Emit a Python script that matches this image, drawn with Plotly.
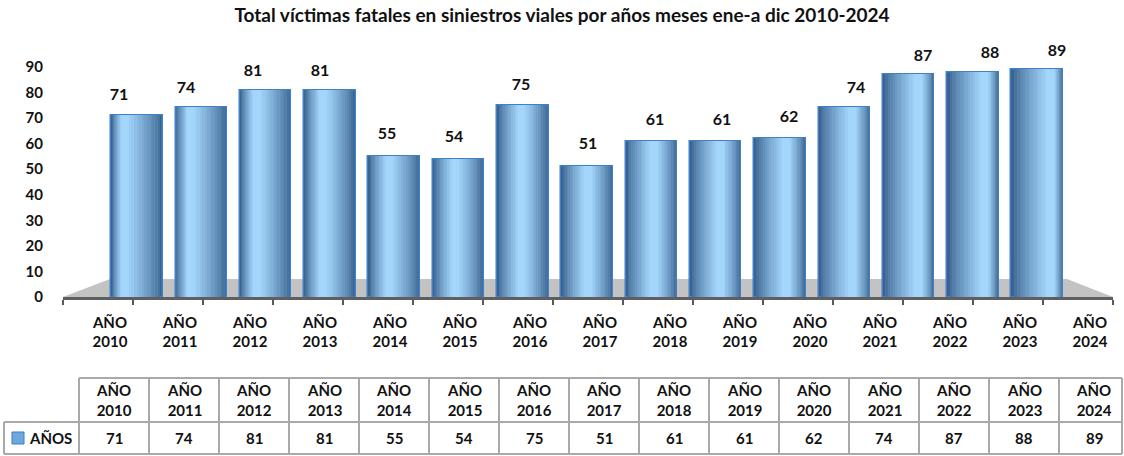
import plotly.graph_objects as go

years = ["2010", "2011", "2012", "2013", "2014", "2015", "2016", "2017",
         "2018", "2019", "2020", "2021", "2022", "2023", "2024"]
values = [71, 74, 81, 81, 55, 54, 75, 51, 61, 61, 62, 74, 87, 88, 89]
series_name = "AÑOS"
title = "Total víctimas fatales en siniestros viales por años meses ene-a dic 2010-2024"

cats = ["AÑO " + y for y in years]
ticktext = ["<b>AÑO<br>" + y + "</b>" for y in years]

W, H = 1124, 456
FONT = "Lato"
TXT = "#111111"
GRID = "#a9a9a9"

def px(x):
    return x / W

def py(y):
    return 1 - y / H

def mix(c1, c2, t):
    a = [int(c1[i:i + 2], 16) for i in (1, 3, 5)]
    b = [int(c2[i:i + 2], 16) for i in (1, 3, 5)]
    return "rgb(%d,%d,%d)" % tuple(round(a[j] + (b[j] - a[j]) * t) for j in range(3))

fig = go.Figure()

# invisible trace to build the categorical base axis
fig.add_trace(go.Scatter(x=cats, y=values, mode="markers", marker=dict(opacity=0),
                         hoverinfo="skip", showlegend=False, xaxis="x", yaxis="y"))

# cylinder-like bars: nested layers of decreasing width give a smooth gradient
n = len(values)
BAR_W = 0.8
NL = 14
shift = [-0.55 + 1.15 * i / (n - 1) for i in range(n)]
for k in range(NL):
    t = k / (NL - 1)
    w = BAR_W * (1 - 0.85 * t)
    col = mix("#3a6490", "#a4d6fc", t ** 0.8)
    offs = [-w / 2 + s * (BAR_W - w) / 2 for s in shift]
    fig.add_trace(go.Bar(
        x=cats, y=values, width=w, offset=offs,
        marker=dict(color=col,
                    line=dict(color="#3f80c8", width=1.5) if k == 0 else dict(width=0)),
        xaxis="x2", yaxis="y", showlegend=False, hoverinfo="skip"))

# data labels (perspective: label height compressed slightly)
fig.add_trace(go.Scatter(
    x=cats, y=[v * 0.958 + 10.6 for v in values], text=["<b>%d</b>" % v for v in values],
    mode="text", textfont=dict(family=FONT, size=16, color=TXT),
    xaxis="x3", yaxis="y", cliponaxis=False, showlegend=False, hoverinfo="skip"))

# ---- data table (text from the data arrays, grid as decoration) ----
tab_left, col0_right, col_w, tab_right = 4, 79, 70, 1122
row_top, row_mid, row_bot = 378, 422, 454
annotations = []
shapes = []
for i, (y, v) in enumerate(zip(years, values)):
    cx = col0_right + col_w * (i + 0.5)
    annotations.append(dict(xref="paper", yref="paper", x=px(cx), y=py((row_top + row_mid) / 2),
                            text="<b>AÑO<br>" + y + "</b>", showarrow=False,
                            xanchor="center", yanchor="middle",
                            font=dict(family=FONT, size=15, color=TXT)))
    annotations.append(dict(xref="paper", yref="paper", x=px(cx), y=py((row_mid + row_bot) / 2),
                            text="<b>%d</b>" % v, showarrow=False,
                            xanchor="center", yanchor="middle",
                            font=dict(family=FONT, size=15, color=TXT)))
annotations.append(dict(xref="paper", yref="paper", x=px(27), y=py((row_mid + row_bot) / 2),
                        text="<b>" + series_name + "</b>", showarrow=False,
                        xanchor="left", yanchor="middle",
                        font=dict(family=FONT, size=15, color=TXT)))
# legend key square
shapes.append(dict(type="rect", xref="paper", yref="paper",
                   x0=px(12), x1=px(24), y0=py(444), y1=py(432),
                   fillcolor="#6fa8dc", line=dict(color="#3f7fc0", width=1)))
# horizontal grid lines
for yy, xs in [(row_top, col0_right), (row_mid, tab_left), (row_bot, tab_left)]:
    shapes.append(dict(type="line", xref="paper", yref="paper",
                       x0=px(xs), x1=px(tab_right), y0=py(yy), y1=py(yy),
                       line=dict(color=GRID, width=2)))
# vertical grid lines
shapes.append(dict(type="line", xref="paper", yref="paper",
                   x0=px(tab_left), x1=px(tab_left), y0=py(row_mid), y1=py(row_bot),
                   line=dict(color=GRID, width=2)))
for k in range(n):
    xx = col0_right + col_w * k
    shapes.append(dict(type="line", xref="paper", yref="paper",
                       x0=px(xx), x1=px(xx), y0=py(row_top), y1=py(row_bot),
                       line=dict(color=GRID, width=2)))
shapes.append(dict(type="line", xref="paper", yref="paper",
                   x0=px(tab_right), x1=px(tab_right), y0=py(row_top), y1=py(row_bot),
                   line=dict(color=GRID, width=2)))

# 3D floor decoration
shapes.append(dict(type="path", xref="paper", yref="paper", layer="below",
                   path="M %f %f L %f %f L %f %f L %f %f Z" % (
                       px(63), py(297), px(110), py(279), px(1067), py(279), px(1113), py(297)),
                   fillcolor="#c3c3c3", line=dict(width=0)))

x0, x1 = 63, 1113
ydom = [py(297), py(297 - 100 * 2.556)]

fig.update_layout(
    width=W, height=H,
    margin=dict(l=0, r=0, t=0, b=0, autoexpand=False),
    paper_bgcolor="white", plot_bgcolor="rgba(0,0,0,0)",
    barmode="overlay", bargap=0,
    title=dict(text="<b>" + title + "</b>", x=0.5, xanchor="center",
               y=py(15), yanchor="middle", automargin=False,
               font=dict(family=FONT, size=19, color=TXT)),
    xaxis=dict(domain=[px(x0), px(x1)], type="category", range=[-0.5, n - 0.5],
               automargin=False,
               showline=True, linecolor="#5f5f5f", linewidth=2.5,
               ticks="outside", tickson="boundaries", ticklen=5, tickwidth=2,
               tickcolor="#595959", tickmode="array", tickvals=cats, ticktext=ticktext,
               ticklabelshift=12, ticklabelstandoff=10,
               tickfont=dict(family=FONT, size=15, color=TXT),
               showgrid=False, zeroline=False, anchor="y"),
    xaxis2=dict(overlaying="x", type="category", automargin=False,
                range=[(x0 - 137) / 64.3, (x1 - 137) / 64.3],
                visible=False, anchor="y"),
    xaxis3=dict(overlaying="x", type="category", automargin=False,
                range=[(x0 - 119) / 67.0, (x1 - 119) / 67.0],
                visible=False, anchor="y"),
    yaxis=dict(domain=ydom, range=[0, 100], tickmode="array", automargin=False,
               tickvals=list(range(0, 100, 10)),
               ticktext=["<b>%d</b>" % t for t in range(0, 100, 10)],
               ticks="outside", ticklen=16, tickcolor="rgba(0,0,0,0)",
               tickfont=dict(family=FONT, size=15, color=TXT),
               showgrid=False, zeroline=False, showline=False),
    shapes=shapes,
    annotations=annotations,
)

fig.write_html("out.html", config={"displayModeBar": False},
               post_script="document.body.style.margin='0';document.body.style.overflow='hidden';")
